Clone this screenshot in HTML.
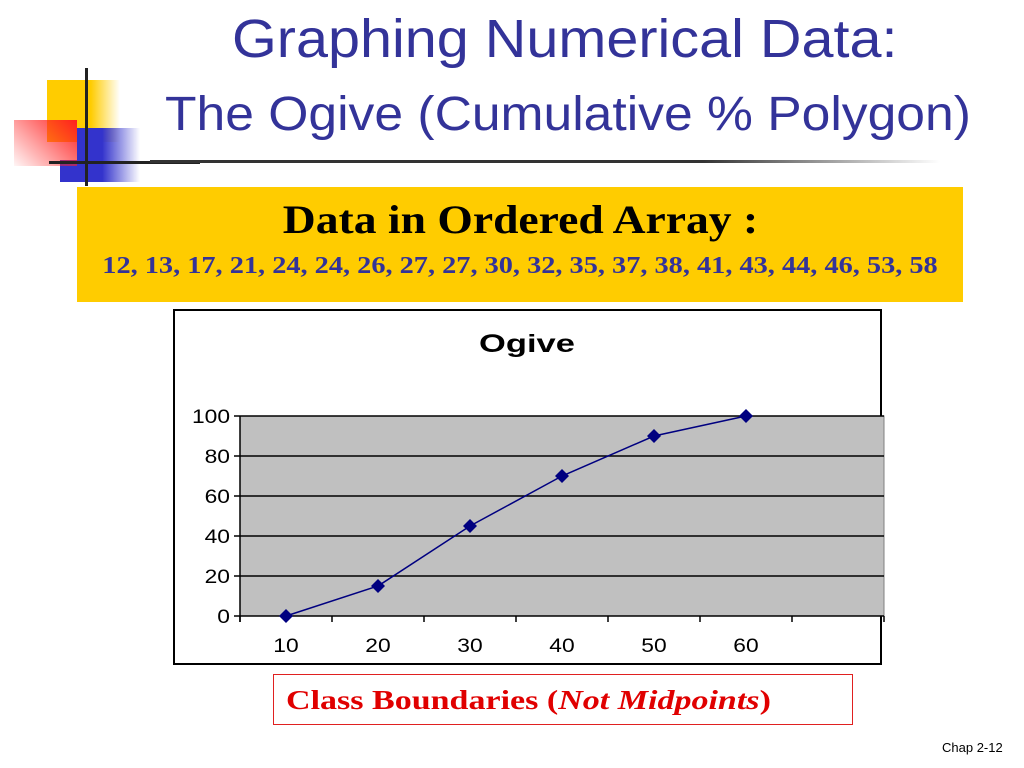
<!DOCTYPE html>
<html><head><meta charset="utf-8"><style>
body{margin:0;width:1024px;height:768px;background:#fff;position:relative;overflow:hidden;font-family:"Liberation Sans",sans-serif}
.a{position:absolute}
.s{display:inline-block;white-space:nowrap}
</style></head><body>
<div class="a" style="left:0;top:60px;width:200px;height:140px">
<div class="a" style="left:47px;top:20px;width:73px;height:62px;background:linear-gradient(90deg,#ffcc00 60%,rgba(255,204,0,0))"></div>
<div class="a" style="left:77px;top:68px;width:63px;height:54px;background:linear-gradient(90deg,#3333cc 40%,rgba(51,51,204,0))"></div>
<div class="a" style="left:60px;top:100px;width:40px;height:22px;background:#3333cc"></div>
<div class="a" style="left:14px;top:60px;width:63px;height:46px;background:linear-gradient(225deg,#ff2020,rgba(255,80,80,0.05))"></div>
<div class="a" style="left:85px;top:8px;width:3px;height:118px;background:#222"></div>
<div class="a" style="left:49px;top:101px;width:151px;height:3px;background:#222"></div>
</div>
<div class="a" style="left:150px;top:160px;width:790px;height:3px;background:linear-gradient(90deg,#333,#333 70%,rgba(0,0,0,0))"></div>
<div class="a s" style="left:232px;top:6px;color:#333399;font-size:54px;line-height:66px;transform:scaleX(1.066);transform-origin:left">Graphing Numerical Data:</div>
<div class="a s" style="left:165px;top:84px;color:#333399;font-size:48px;line-height:62px;transform:scaleX(1.075);transform-origin:left">The Ogive (Cumulative % Polygon)</div>
<div class="a" style="left:77px;top:187px;width:886px;height:115px;background:#ffcc00;font-family:'Liberation Serif',serif;text-align:center">
<div style="font-weight:bold;font-size:40px;margin-top:10px;line-height:46px"><span class="s" style="transform:scaleX(1.14)">Data in Ordered Array :</span></div>
<div style="font-weight:bold;font-size:24px;color:#333399;margin-top:10px"><span class="s" style="transform:scaleX(1.18)">12, 13, 17, 21, 24, 24, 26, 27, 27, 30, 32, 35, 37, 38, 41, 43, 44, 46, 53, 58</span></div>
</div>
<svg class="a" style="left:0;top:0" width="1024" height="768" id="c"></svg>
<div class="a" style="left:273px;top:674px;width:580px;height:51px;border:1px solid #e02020;font-family:'Liberation Serif',serif;font-weight:bold;color:#e00000;font-size:27px;line-height:51px;padding-left:12px;box-sizing:border-box"><span class="s" style="transform:scaleX(1.26);transform-origin:left">Class Boundaries (<i>Not Midpoints</i>)</span></div>
<div class="a" style="left:942px;top:740px;font-size:13px">Chap 2-12</div>
<script>
const categories=["10","20","30","40","50","60",""];
const values=[0,15,45,70,90,100];
const yTicks=[0,20,40,60,80,100];
const svg=document.getElementById('c');const NS='http://www.w3.org/2000/svg';
function mk(t,a,p){const e=document.createElementNS(NS,t);for(const k in a)e.setAttribute(k,a[k]);(p||svg).appendChild(e);return e;}
function stretch(t,f){const w=t.getComputedTextLength();if(w>0){t.setAttribute('textLength',w*f);t.setAttribute('lengthAdjust','spacingAndGlyphs');}}
const L=240,R=884,T=416,B=616;
const xs=i=>L+(i+0.5)*(R-L)/categories.length;
const ys=v=>B-(v/100)*(B-T);
let box=mk('rect',{x:174,y:310,width:707,height:354,fill:'#fff',stroke:'#000','stroke-width':2});

let tt=mk('text',{x:527,y:352,'text-anchor':'middle','font-size':25,'font-weight':'bold'});tt.textContent='Ogive';

stretch(tt,1.38);
let pa=mk('rect',{x:L,y:T,width:R-L,height:B-T,fill:'#c0c0c0',stroke:'#808080'});

yTicks.forEach(v=>{const y=ys(v);
let g=mk('line',{x1:L-6,x2:R,y1:y,y2:y,stroke:'#000','stroke-width':1.5});

let t=mk('text',{x:L-10,y:y+7,'text-anchor':'end','font-size':19});t.textContent=v;

stretch(t,1.2);});
mk('line',{x1:L,x2:L,y1:T,y2:B+6,stroke:'#000','stroke-width':1.5});
for(let i=0;i<=categories.length;i++){const x=L+i*(R-L)/categories.length;mk('line',{x1:x,x2:x,y1:B,y2:B+6,stroke:'#000','stroke-width':1.5});}
categories.forEach((c,i)=>{let t=mk('text',{x:xs(i),y:652,'text-anchor':'middle','font-size':19});t.textContent=c;

stretch(t,1.2);});
let ln=mk('polyline',{points:values.map((v,i)=>xs(i)+','+ys(v)).join(' '),fill:'none',stroke:'#000080','stroke-width':1.5});

values.forEach((v,i)=>{const x=xs(i),y=ys(v);
let m=mk('polygon',{points:`${x},${y-7} ${x+7},${y} ${x},${y+7} ${x-7},${y}`,fill:'#000080'});
});
</script>
</body></html>
